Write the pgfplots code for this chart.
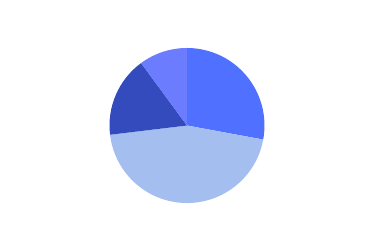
\documentclass[border=0pt]{standalone}
\usepackage{pgfplots}
\usepackage{pgfplotstable}
\pgfplotsset{compat=1.18}
\definecolor{sliceA}{HTML}{5070FF}
\definecolor{sliceB}{HTML}{A4BEF0}
\definecolor{sliceC}{HTML}{334BBD}
\definecolor{sliceD}{HTML}{6B7CFF}
\pgfplotstableread{
label value color
A 27.9 sliceA
B 45.2 sliceB
C 16.8 sliceC
D 10.1 sliceD
}\piedata
\begin{document}
\begin{tikzpicture}
\begin{axis}[
  scale only axis, width=375pt, height=250pt,
  xmin=-2.413, xmax=2.426, ymin=-1.606, ymax=1.619,
  hide axis, clip=false,
]
\path (rel axis cs:0,0) rectangle (rel axis cs:1,1);
\pgfplotstablegetrowsof{\piedata}
\pgfmathtruncatemacro\N{\pgfplotsretval-1}
\def\cum{90}
\pgfplotsforeachungrouped \i in {0,...,\N}{%
  \pgfplotstablegetelem{\i}{value}\of\piedata \let\v\pgfplotsretval
  \pgfplotstablegetelem{\i}{color}\of\piedata \let\c\pgfplotsretval
  \pgfmathsetmacro\endang{\cum-3.6*\v}%
  \pgfmathsetmacro\cx{cos(\cum)}%
  \pgfmathsetmacro\cy{sin(\cum)}%
  \edef\temp{\noexpand\fill[\c] (axis cs:0,0) -- (axis cs:\cx,\cy) arc[start angle=\cum, end angle=\endang, radius=1] -- cycle;}%
  \temp
  \global\let\cum\endang
}
\end{axis}
\end{tikzpicture}
\end{document}
